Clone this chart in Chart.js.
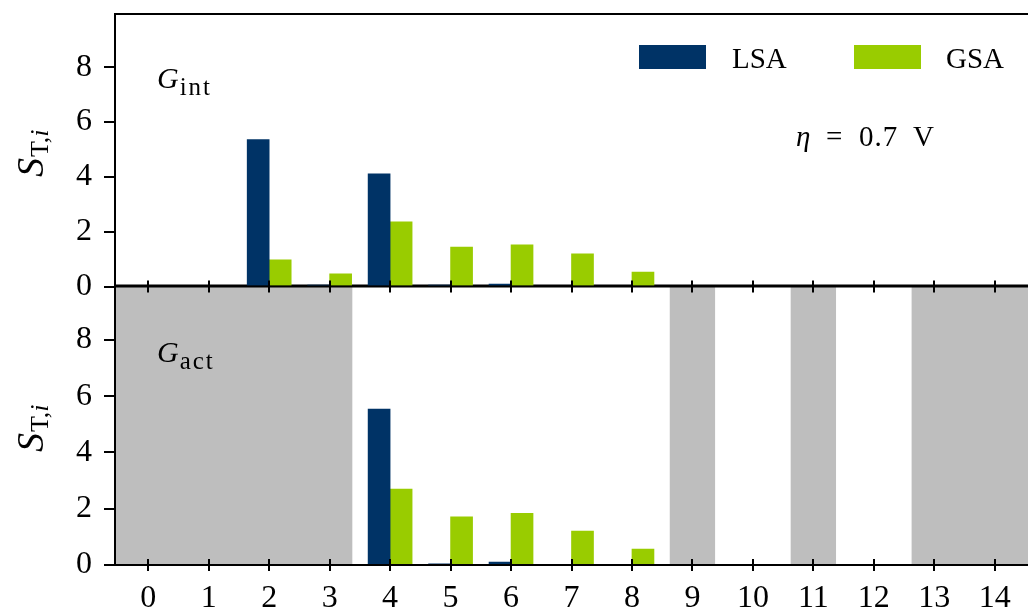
<!DOCTYPE html>
<html>
<head>
<meta charset="utf-8">
<script src="https://cdn.jsdelivr.net/npm/chart.js@4.4.1/dist/chart.umd.min.js"></script>
<style>
  html, body { margin: 0; padding: 0; background: #fff; overflow: hidden; }
  #wrap { position: relative; width: 1028px; height: 614px; }
  canvas { position: absolute; left: 0; }
  #top { top: 0; z-index: 2; }
  #bottom { top: 280px; z-index: 1; }
</style>
</head>
<body>
<div id="wrap">
  <canvas id="top" width="1028" height="300"></canvas>
  <canvas id="bottom" width="1028" height="334"></canvas>
</div>
<script>
// parameter index on the x axis
const categories = [0, 1, 2, 3, 4, 5, 6, 7, 8, 9, 10, 11, 12, 13, 14];
const yTicks = [0, 2, 4, 6, 8];

// G_int panel
const lsaInt = [0, 0, 5.36, 0.05, 4.11, 0.05, 0.09, 0, 0, 0, 0, 0, 0, 0, 0];
const gsaInt = [0, 0, 0.97, 0.46, 2.36, 1.44, 1.52, 1.19, 0.53, 0, 0, 0, 0, 0, 0];

// G_act panel
const lsaAct = [0, 0, 0, 0, 5.54, 0.04, 0.10, 0, 0, 0, 0, 0, 0, 0, 0];
const gsaAct = [0, 0, 0, 0, 2.70, 1.71, 1.84, 1.21, 0.57, 0, 0, 0, 0, 0, 0];
// parameters not used by G_act (shaded grey)
const inactiveAct = [0, 1, 2, 3, 9, 11, 13, 14];

const NAVY = "#003366";
const GREEN = "#99cc00";
const GREY = "#bebebe";
const FONT = "'Liberation Serif', 'DejaVu Serif', serif";
const barShift = 0.182;

Chart.defaults.font.family = FONT;
Chart.defaults.color = "#000";

function drawYLabel(ctx, area) {
    const sFont = "italic 38px " + FONT;
    const subA = "26px " + FONT;
    const subB = "italic 26px " + FONT;
    ctx.save();
    ctx.font = sFont; const wS = ctx.measureText("S").width;
    ctx.font = subA; const wT = ctx.measureText("T,").width;
    ctx.font = subB; const wI = ctx.measureText("i").width;
    const total = wS + wT + wI;
    ctx.translate(43, (area.top + area.bottom) / 2 + 3);
    ctx.rotate(-Math.PI / 2);
    ctx.fillStyle = "#000";
    ctx.textBaseline = "alphabetic";
    let x = -total / 2;
    ctx.font = sFont; ctx.fillText("S", x, 0); x += wS + 1;
    ctx.font = subA; ctx.fillText("T,", x, 5); x += wT;
    ctx.font = subB; ctx.fillText("i", x, 5);
    ctx.restore();
}

function drawG(ctx, sub, baseY) {
    ctx.save();
    ctx.fillStyle = "#000";
    ctx.font = "italic 30px " + FONT;
    ctx.fillText("G", 157, baseY);
    const w = ctx.measureText("G").width;
    ctx.font = "25px " + FONT;
    ctx.letterSpacing = "2px";
    ctx.fillText(sub, 157 + w + 1, baseY + 7);
    ctx.restore();
}

function makePanel(id, lsa, gsa, cfg) {
    const panelPlugin = {
        id: "panel_" + id,
        beforeDatasetsDraw(chart) {
            if (!cfg.shade) return;
            const { ctx, chartArea } = chart;
            const xs = chart.scales.x;
            // merge consecutive shaded indices into spans
            const groups = [];
            cfg.shade.forEach((v) => {
                const g = groups[groups.length - 1];
                if (g && v === g[1] + 1) g[1] = v; else groups.push([v, v]);
            });
            ctx.save();
            ctx.fillStyle = GREY;
            groups.forEach(([a, b]) => {
                const x0 = a === categories[0] ? chartArea.left : xs.getPixelForValue(a - 0.375);
                const x1 = b === categories[categories.length - 1] ? chartArea.right : xs.getPixelForValue(b + 0.375);
                ctx.fillRect(x0, chartArea.top, x1 - x0, chartArea.bottom - chartArea.top);
            });
            ctx.restore();
        },
        afterDatasetsDraw(chart) {
            const { ctx, chartArea } = chart;
            const xs = chart.scales.x;
            ctx.save();
            ctx.strokeStyle = "#000";
            ctx.lineWidth = 2;
            ctx.beginPath();
            ctx.moveTo(chartArea.left, chartArea.bottom);
            ctx.lineTo(chartArea.right, chartArea.bottom);
            ctx.moveTo(chartArea.left, chartArea.bottom + 1);
            ctx.lineTo(chartArea.left, chartArea.top - 1);
            ctx.lineTo(chartArea.right, chartArea.top - 1);
            ctx.stroke();
            // x ticks crossing the axis line
            ctx.beginPath();
            categories.forEach((c) => {
                const px = Math.round(xs.getPixelForValue(c));
                ctx.moveTo(px, chartArea.bottom - 6);
                ctx.lineTo(px, chartArea.bottom + 6);
            });
            ctx.stroke();
            ctx.restore();
        },
        afterDraw(chart) {
            const { ctx, chartArea } = chart;
            drawYLabel(ctx, chartArea);
            drawG(ctx, cfg.gSub, cfg.gBase);
            if (cfg.legend) {
                ctx.save();
                ctx.font = "29px " + FONT;
                ctx.fillStyle = "#000";
                const slots = [[639, 732], [854, 946]];
                chart.data.datasets.forEach((ds, i) => {
                    ctx.fillStyle = ds.backgroundColor;
                    ctx.fillRect(slots[i][0], 45, 67, 24);
                    ctx.fillStyle = "#000";
                    ctx.fillText(ds.label, slots[i][1], 68);
                });
                // overpotential note
                ctx.font = "italic 29px " + FONT;
                ctx.fillText("\u03b7", 796, 146);
                ctx.font = "29px " + FONT;
                ctx.fillText("=", 826, 146);
                ctx.letterSpacing = "1px";
                ctx.fillText("0.7", 859, 146);
                ctx.fillText("V", 913, 146);
                ctx.restore();
            }
        }
    };

    return new Chart(document.getElementById(id), {
        type: "bar",
        data: {
            datasets: [
                {
                    label: "LSA",
                    data: categories.map((c, i) => ({ x: c - barShift, y: lsa[i] })),
                    backgroundColor: NAVY,
                    barThickness: 22,
                    grouped: false
                },
                {
                    label: "GSA",
                    data: categories.map((c, i) => ({ x: c + barShift, y: gsa[i] })),
                    backgroundColor: GREEN,
                    barThickness: 22,
                    grouped: false
                }
            ]
        },
        options: {
            responsive: false,
            animation: false,
            devicePixelRatio: 1,
            layout: { padding: cfg.padding },
            plugins: {
                legend: { display: false },
                tooltip: { enabled: false }
            },
            scales: {
                x: {
                    type: "linear",
                    offset: false,
                    min: -0.55,
                    max: 14.55,
                    grid: { display: false, drawTicks: false },
                    border: { display: false },
                    ticks: {
                        display: cfg.xLabels,
                        font: { size: 32 },
                        padding: 14,
                        maxRotation: 0,
                        autoSkip: false
                    },
                    afterBuildTicks: (s) => { s.ticks = categories.map((v) => ({ value: v })); },
                    afterFit: (s) => {
                        s.height = cfg.xHeight;
                        s.paddingLeft = 0; s.paddingRight = 0;
                        s.paddingTop = 0; s.paddingBottom = 0;
                    }
                },
                y: {
                    min: 0,
                    max: 9.9,
                    grid: {
                        drawOnChartArea: false,
                        drawTicks: true,
                        tickLength: 11,
                        color: "#000",
                        lineWidth: 2
                    },
                    border: { display: false },
                    ticks: { font: { size: 32 }, padding: 12 },
                    afterBuildTicks: (s) => { s.ticks = yTicks.map((v) => ({ value: v })); },
                    afterFit: (s) => {
                        s.width = 115;
                        s.paddingLeft = 0; s.paddingRight = 0;
                        s.paddingTop = 0; s.paddingBottom = 0;
                    }
                }
            }
        },
        plugins: [panelPlugin]
    });
}

makePanel("top", lsaInt, gsaInt, {
    padding: { top: 15, bottom: 13.5, left: 0, right: 0 },
    xHeight: 0,
    xLabels: false,
    legend: true,
    gSub: "int",
    gBase: 88
});

makePanel("bottom", lsaAct, gsaAct, {
    padding: { top: 6.5, bottom: 0, left: 0, right: 0 },
    xHeight: 49,
    xLabels: true,
    shade: inactiveAct,
    gSub: "act",
    gBase: 82
});
</script>
</body>
</html>
